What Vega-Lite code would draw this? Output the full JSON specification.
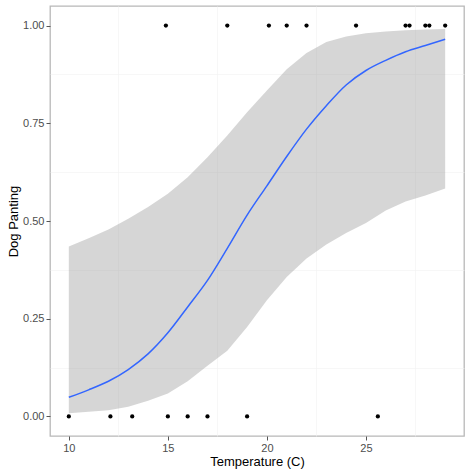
{
  "$schema": "https://vega.github.io/schema/vega-lite/v6.json",
  "width": 414,
  "height": 430,
  "autosize": "none",
  "padding": {"left": 50, "top": 6, "right": 6, "bottom": 39},
  "background": "white",
  "config": {
    "view": {"stroke": "#b8b8b8", "strokeWidth": 1.3},
    "font": "Liberation Sans",
    "axis": {
      "domain": false,
      "grid": true,
      "gridColor": "#e8e8e8",
      "gridWidth": 1,
      "tickColor": "#555555",
      "tickSize": 4,
      "labelColor": "#4d4d4d",
      "labelFontSize": 11,
      "labelPadding": 2,
      "titleColor": "black",
      "titleFontSize": 13,
      "titleFontWeight": "normal"
    }
  },
  "datasets": {
    "fit": [
      {"temp": 10, "fit": 0.049, "lower": 0.008, "upper": 0.435},
      {"temp": 11, "fit": 0.068, "lower": 0.012, "upper": 0.456},
      {"temp": 12, "fit": 0.09, "lower": 0.016, "upper": 0.478},
      {"temp": 13, "fit": 0.12, "lower": 0.025, "upper": 0.506},
      {"temp": 14, "fit": 0.16, "lower": 0.04, "upper": 0.536},
      {"temp": 15, "fit": 0.214, "lower": 0.059, "upper": 0.57},
      {"temp": 16, "fit": 0.28, "lower": 0.09, "upper": 0.612},
      {"temp": 17, "fit": 0.348, "lower": 0.13, "upper": 0.663},
      {"temp": 18, "fit": 0.43, "lower": 0.168, "upper": 0.719},
      {"temp": 19, "fit": 0.515, "lower": 0.229, "upper": 0.778},
      {"temp": 20, "fit": 0.59, "lower": 0.297, "upper": 0.834},
      {"temp": 21, "fit": 0.665, "lower": 0.357, "upper": 0.888},
      {"temp": 22, "fit": 0.735, "lower": 0.404, "upper": 0.93},
      {"temp": 23, "fit": 0.795, "lower": 0.44, "upper": 0.958},
      {"temp": 24, "fit": 0.848, "lower": 0.469, "upper": 0.972},
      {"temp": 25, "fit": 0.885, "lower": 0.495, "upper": 0.98},
      {"temp": 26, "fit": 0.911, "lower": 0.527, "upper": 0.985},
      {"temp": 27, "fit": 0.933, "lower": 0.55, "upper": 0.988},
      {"temp": 28, "fit": 0.949, "lower": 0.565, "upper": 0.99},
      {"temp": 29, "fit": 0.965, "lower": 0.583, "upper": 0.991}
    ],
    "obs": [
      {"temp": 10.0, "panting": 0},
      {"temp": 12.1, "panting": 0},
      {"temp": 13.2, "panting": 0},
      {"temp": 15.0, "panting": 0},
      {"temp": 16.0, "panting": 0},
      {"temp": 17.0, "panting": 0},
      {"temp": 19.0, "panting": 0},
      {"temp": 25.6, "panting": 0},
      {"temp": 14.9, "panting": 1},
      {"temp": 18.0, "panting": 1},
      {"temp": 20.1, "panting": 1},
      {"temp": 21.0, "panting": 1},
      {"temp": 22.0, "panting": 1},
      {"temp": 24.5, "panting": 1},
      {"temp": 27.0, "panting": 1},
      {"temp": 27.2, "panting": 1},
      {"temp": 28.0, "panting": 1},
      {"temp": 28.2, "panting": 1},
      {"temp": 29.0, "panting": 1}
    ]
  },
  "layer": [
    {
      "data": {"name": "fit"},
      "mark": {"type": "area", "color": "#999999", "opacity": 0.4},
      "encoding": {
        "x": {
          "field": "temp",
          "type": "quantitative",
          "scale": {"domain": [9.05, 29.95], "nice": false, "zero": false},
          "axis": {
            "orient": "top",
            "values": [12.5, 17.5, 22.5, 27.5],
            "labels": false,
            "ticks": false,
            "title": null,
            "gridColor": "#f2f2f2",
            "gridWidth": 0.6
          }
        },
        "y": {
          "field": "lower",
          "type": "quantitative",
          "scale": {"domain": [-0.05, 1.05], "nice": false, "zero": false},
          "axis": {
            "orient": "right",
            "values": [0.125, 0.375, 0.625, 0.875],
            "labels": false,
            "ticks": false,
            "title": null,
            "gridColor": "#f2f2f2",
            "gridWidth": 0.6
          }
        },
        "y2": {"field": "upper"}
      }
    },
    {
      "data": {"name": "fit"},
      "mark": {"type": "line", "color": "#3366ff", "strokeWidth": 1.5, "interpolate": "monotone"},
      "encoding": {
        "x": {
          "field": "temp",
          "type": "quantitative",
          "axis": {"values": [10, 15, 20, 25], "title": "Temperature (C)", "titlePadding": 2}
        },
        "y": {
          "field": "fit",
          "type": "quantitative",
          "axis": {
            "values": [0, 0.25, 0.5, 0.75, 1],
            "format": ".2f",
            "title": "Dog Panting",
            "titlePadding": 2
          }
        }
      }
    },
    {
      "data": {"name": "obs"},
      "mark": {"type": "circle", "color": "black", "opacity": 1, "size": 18},
      "encoding": {
        "x": {"field": "temp", "type": "quantitative", "axis": null},
        "y": {"field": "panting", "type": "quantitative", "axis": null}
      }
    }
  ],
  "resolve": {"axis": {"x": "independent", "y": "independent"}}
}
